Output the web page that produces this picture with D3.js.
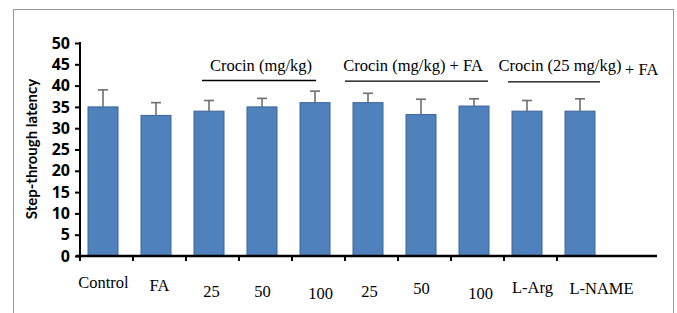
<!DOCTYPE html>
<html>
<head>
<meta charset="utf-8">
<script src="https://cdn.jsdelivr.net/npm/d3@7"></script>
<style>
  body { margin: 0; background: #fff; }
  svg { display: block; }
</style>
</head>
<body>
<svg id="chart" width="677" height="313"></svg>
<script>
// groups along the x axis (the last slot is empty)
const categories = ["Control", "FA", "25", "50", "100", "25b", "50b", "100b", "L-Arg", "L-NAME", "empty"];
const tickLabels = ["Control", "FA", "25", "50", "100", "25", "50", "100", "L-Arg", "L-NAME"];
const means = [35, 33, 34, 35, 36, 36, 33.2, 35.2, 34, 34];
const errors = [4, 3, 2.5, 2, 2.7, 2.2, 3.6, 1.7, 2.5, 2.9];
const yTicks = [0, 5, 10, 15, 20, 25, 30, 35, 40, 45, 50];

// group annotations
const groups = [
  { label: "Crocin (mg/kg)" },
  { label: "Crocin (mg/kg) + FA" },
  { label: "Crocin (25 mg/kg)" }
];

const svg = d3.select("#chart");

// outer frame
svg.append("rect")
  .attr("x", 13.5).attr("y", 9.5)
  .attr("width", 660).attr("height", 320)
  .attr("fill", "none").attr("stroke", "#999").attr("stroke-width", 1);

const x = d3.scaleBand().domain(categories).range([80, 663]);
const y = d3.scaleLinear().domain([0, 50]).range([256, 43]);

const barW = 30;
const barX = d => x(d) + 8;

// bars
svg.append("g").selectAll("rect")
  .data(means.map((v, i) => ({ c: categories[i], v })))
  .enter().append("rect")
    .attr("x", d => barX(d.c))
    .attr("y", d => y(d.v))
    .attr("width", barW)
    .attr("height", d => y(0) - y(d.v))
    .attr("fill", "#4f81bd")
    .attr("stroke", "#3b6496")
    .attr("stroke-width", 1);

// error bars
const eb = svg.append("g").attr("stroke", "#6e6e6e").attr("stroke-width", 1.6);
means.forEach((v, i) => {
  const cx = barX(categories[i]) + barW / 2;
  eb.append("line").attr("x1", cx).attr("x2", cx).attr("y1", y(v)).attr("y2", y(v + errors[i]));
  eb.append("line").attr("x1", cx - 5).attr("x2", cx + 5).attr("y1", y(v + errors[i])).attr("y2", y(v + errors[i]));
});

// y axis
const yAxis = svg.append("g")
  .attr("transform", "translate(80,0)")
  .call(d3.axisLeft(y).tickValues(yTicks).tickSize(5).tickPadding(5));
yAxis.select(".domain").attr("stroke", "#000").attr("stroke-width", 2).attr("d", "M0," + (y(50) - 1) + "V" + (y(0) + 1));
yAxis.selectAll(".tick line").attr("stroke", "#000").attr("stroke-width", 2);
yAxis.selectAll("text")
  .attr("font-family", "Open Sans, sans-serif")
  .attr("font-weight", "bold")
  .attr("font-size", 16)
  .attr("fill", "#000");

// x axis line and ticks at group boundaries
svg.append("line")
  .attr("x1", 76).attr("x2", 657).attr("y1", y(0)).attr("y2", y(0))
  .attr("stroke", "#000").attr("stroke-width", 2.5);
svg.append("g").selectAll("line")
  .data(categories.slice(0, 10))
  .enter().append("line")
    .attr("x1", d => x(d)).attr("x2", d => x(d))
    .attr("y1", y(0)).attr("y2", y(0) + 5)
    .attr("stroke", "#000").attr("stroke-width", 2);

// x labels (scattered as in the original)
const labelDx = [-3, 0, -1, -3, 2, -2, -3, 3, 2, 18];
const labelDy = [288, 291, 297, 297, 299, 297, 294, 299, 293, 294];
svg.append("g").selectAll("text")
  .data(tickLabels)
  .enter().append("text")
    .attr("x", (d, i) => x(categories[i]) + x.bandwidth() / 2 + labelDx[i])
    .attr("y", (d, i) => labelDy[i])
    .attr("text-anchor", "middle")
    .attr("font-family", "Liberation Serif, Times New Roman, serif")
    .attr("font-size", 16.5)
    .attr("fill", "#000")
    .text(d => d);

// y title
svg.append("text")
  .attr("transform", "translate(37,149)rotate(-90)")
  .attr("text-anchor", "middle")
  .attr("font-family", "Lato, sans-serif")
  .attr("font-weight", "bold")
  .attr("font-size", 15)
  .attr("fill", "#000")
  .text("Step-through latency");

// group annotations
const ann = svg.append("g");
const lineSpan = [[202, 316], [345, 488], [508, 600]];
const labelX = [261, 413, 560];
groups.forEach((g, i) => {
  ann.append("line")
    .attr("x1", lineSpan[i][0]).attr("x2", lineSpan[i][1])
    .attr("y1", 80.5 + i * 0.7).attr("y2", 80.5 + i * 0.7)
    .attr("stroke", "#000").attr("stroke-width", 1.3);
  ann.append("text")
    .attr("x", labelX[i]).attr("y", 71)
    .attr("text-anchor", "middle")
    .attr("font-family", "Liberation Serif, Times New Roman, serif")
    .attr("font-size", 16.5)
    .attr("fill", "#000")
    .text(g.label);
});
ann.append("text")
  .attr("x", 625).attr("y", 75)
  .attr("font-family", "Liberation Serif, Times New Roman, serif")
  .attr("font-size", 16.5)
  .attr("fill", "#000")
  .text("+ FA");
</script>
</body>
</html>
